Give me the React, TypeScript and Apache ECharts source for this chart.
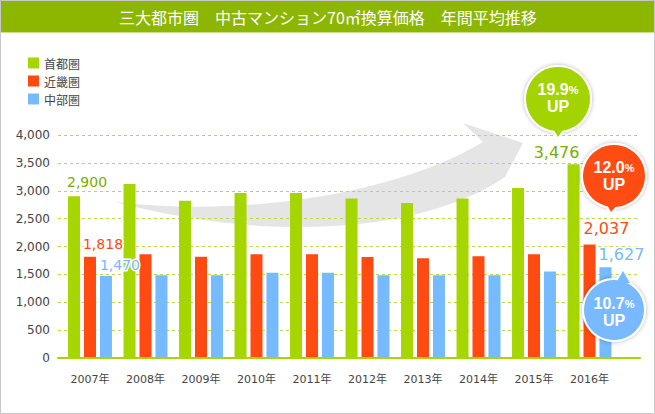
import React, { useEffect, useRef } from 'react';
import * as echarts from 'echarts';

const title = '三大都市圏　中古マンション70㎡換算価格　年間平均推移';
const categories = ['2007年', '2008年', '2009年', '2010年', '2011年', '2012年', '2013年', '2014年', '2015年', '2016年'];
const seriesNames = ['首都圏', '近畿圏', '中部圏'];
const shutoken = [2900, 3120, 2820, 2960, 2960, 2860, 2780, 2860, 3050, 3476];
const kinki = [1818, 1860, 1815, 1860, 1860, 1812, 1790, 1825, 1860, 2037];
const chubu = [1470, 1485, 1485, 1530, 1530, 1485, 1485, 1485, 1550, 1627];
const yTicks = [0, 500, 1000, 1500, 2000, 2500, 3000, 3500, 4000];
const growth = ['19.9', '12.0', '10.7'];

const GREEN = '#a5d600';
const RED = '#ff4b12';
const BLUE = '#76baff';
const NUMFONT = 'DejaVu Sans, Noto Sans CJK JP, sans-serif';
const CJK = 'Noto Sans CJK JP, sans-serif';

const fmt = (v: number) => v.toLocaleString('en-US');

// label placements for the annotated bars: index -> [dx, dy, fontSize]
const labelSpec: Record<string, Record<number, [number, number, number]>> = {
  g: { 0: [13, -2, 14], 9: [-17, 1, 16] },
  r: { 0: [13, -1, 14], 9: [17, -3, 16] },
  b: { 0: [14, 1, 14], 9: [16, 0, 16] },
};

const arrowD =
  'M115,202 C250,218 400,192 483,142 L463,123 L523,143 L505,177 C440,222 300,250 115,202 Z';

let registered = false;
function ensureShape() {
  if (registered) return;
  registered = true;
  echarts.graphic.registerShape('curveArrow', echarts.graphic.extendPath(arrowD, {}) as any);
}

function buildData(values: number[], key: string, color: string) {
  return values.map((v, i) => {
    const s = labelSpec[key][i];
    if (!s) return v;
    return {
      value: v,
      label: {
        show: true,
        position: 'top',
        distance: 5,
        offset: [s[0], s[1]],
        formatter: (p: any) => fmt(p.value),
        color: key === 'g' ? '#79ad00' : color,
        fontSize: s[2],
        fontFamily: NUMFONT,
        textBorderColor: '#fff',
        textBorderWidth: 3,
      },
    };
  });
}

function bubble(cx: number, cy: number, r: number, color: string, tri: number[][], num: string, ty: number) {
  const rich = {
    n: { fontSize: 16, fontWeight: 'bold', fill: '#fff', color: '#fff', fontFamily: 'Liberation Sans, sans-serif', lineHeight: 17 },
    p: { fontSize: 11, fontWeight: 'bold', fill: '#fff', color: '#fff', fontFamily: 'Liberation Sans, sans-serif', lineHeight: 17 },
    u: { fontSize: 16, fontWeight: 'bold', fill: '#fff', color: '#fff', fontFamily: 'Liberation Sans, sans-serif', lineHeight: 17 },
  };
  return [
    {
      type: 'circle', z: 100,
      shape: { cx, cy, r: r + 2 },
      style: { fill: '#fff', shadowBlur: 4, shadowColor: 'rgba(0,0,0,0.3)' },
    },
    {
      type: 'polygon', z: 100,
      shape: { points: tri },
      style: { fill: '#fff', stroke: '#fff', lineWidth: 4, lineJoin: 'round' },
    },
    { type: 'circle', z: 101, shape: { cx, cy, r }, style: { fill: color } },
    { type: 'polygon', z: 101, shape: { points: tri }, style: { fill: color } },
    {
      type: 'text', z: 102,
      style: {
        text: `{n|${num}}{p|%}\n{u|UP}`,
        rich,
        x: cx,
        y: ty,
        align: 'center',
        verticalAlign: 'middle',
        textAlign: 'center',
        textVerticalAlign: 'middle',
      },
    },
  ];
}

export default function App() {
  const ref = useRef<HTMLDivElement>(null);
  useEffect(() => {
    document.body.style.margin = '0';
    ensureShape();
    const chart = echarts.init(ref.current!, null, { renderer: 'svg' });
    const option: any = {
      animation: false,
      backgroundColor: '#fff',
      legend: {
        orient: 'vertical',
        left: 23,
        top: 52,
        itemWidth: 11,
        itemHeight: 11,
        itemGap: 6,
        icon: 'rect',
        data: seriesNames,
        textStyle: { color: '#444', fontSize: 12, fontFamily: CJK },
        selectedMode: false,
      },
      grid: [
        { left: 62.25, right: 37.75, top: 135, bottom: 56 },
        { left: 58, right: 15, top: 135, bottom: 56 },
      ],
      xAxis: [
        {
          type: 'category',
          gridIndex: 0,
          data: categories,
          axisLine: { show: false },
          axisTick: { show: false },
          axisLabel: { color: '#444', fontSize: 11, fontFamily: NUMFONT, margin: 16 },
        },
        {
          type: 'value',
          gridIndex: 1,
          min: 0,
          max: 1,
          z: 5,
          axisLine: { show: true, lineStyle: { color: GREEN, width: 2 } },
          axisTick: { show: false },
          axisLabel: { show: false },
          splitLine: { show: false },
        },
      ],
      yAxis: [
        { type: 'value', gridIndex: 0, min: 0, max: 4000, show: false, splitLine: { show: false } },
        {
          type: 'value',
          gridIndex: 1,
          min: yTicks[0],
          max: yTicks[yTicks.length - 1],
          interval: 500,
          axisLine: { show: false },
          axisTick: { show: false },
          axisLabel: {
            color: '#444',
            fontSize: 12,
            fontFamily: NUMFONT,
            margin: 8,
            formatter: (v: number) => fmt(v),
          },
          splitLine: { show: true, lineStyle: { color: '#bcd94a', type: [3, 3], width: 1 } },
        },
      ],
      series: [
        { name: seriesNames[0], type: 'bar', xAxisIndex: 0, yAxisIndex: 0, barWidth: 12, barGap: '33%', itemStyle: { color: GREEN }, data: buildData(shutoken, 'g', GREEN) },
        { name: seriesNames[1], type: 'bar', xAxisIndex: 0, yAxisIndex: 0, barWidth: 12, barGap: '33%', itemStyle: { color: RED }, data: buildData(kinki, 'r', RED) },
        { name: seriesNames[2], type: 'bar', xAxisIndex: 0, yAxisIndex: 0, barWidth: 12, barGap: '33%', itemStyle: { color: BLUE }, data: buildData(chubu, 'b', BLUE) },
      ],
      graphic: [
        { type: 'curveArrow', x: 0, y: 0, z: -1, silent: true, style: { fill: '#e5e5e5' } },
        { type: 'rect', z: 0, shape: { x: 0, y: 0, width: 655, height: 32 }, style: { fill: '#8cb600' } },
        { type: 'line', z: 0, shape: { x1: 0, y1: 32.5, x2: 655, y2: 32.5 }, style: { stroke: '#c9de8e', lineWidth: 1 } },
        {
          type: 'rect', z: 0,
          shape: { x: 0.5, y: 0.5, width: 654, height: 413 },
          style: { fill: 'none', stroke: '#c8c8c8', lineWidth: 1 },
        },
        {
          type: 'text', z: 1,
          style: {
            text: title,
            x: 328,
            y: 17,
            fill: '#fff',
            fontSize: 16,
            fontFamily: CJK,
            align: 'center',
            verticalAlign: 'middle',
            textAlign: 'center',
            textVerticalAlign: 'middle',
          },
        },
        ...bubble(558, 99, 32, '#a3d300', [[552, 127], [565, 127], [558, 137]], growth[0], 98),
        ...bubble(614, 176, 31, '#ff4c12', [[606, 203], [619, 203], [611, 212]], growth[1], 176),
        ...bubble(614, 310, 30, '#78b9ff', [[616, 283], [630, 283], [623, 271]], growth[2], 312),
      ],
    };
    chart.setOption(option);
    return () => chart.dispose();
  }, []);
  return <div ref={ref} style={{ width: 655, height: 414 }} />;
}
